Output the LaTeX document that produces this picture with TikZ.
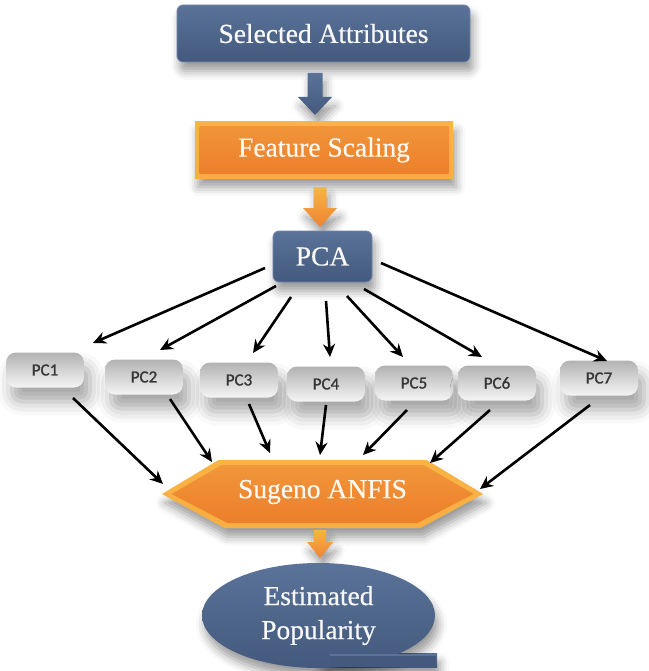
\documentclass[tikz,border=0pt]{standalone}
\usepackage{fontspec}
\setmainfont{Liberation Serif}[FakeBold=0.4]
\newfontfamily\pcfont{Carlito}[FakeBold=1.2]
\usetikzlibrary{shadows.blur,calc,arrows.meta,shapes.geometric}

\definecolor{navyTop}{HTML}{5B7399}
\definecolor{navyBot}{HTML}{43597D}
\definecolor{navyEdge}{HTML}{7489AC}
\definecolor{orTop}{HTML}{F9B443}
\definecolor{orMid}{HTML}{EE8433}
\definecolor{orBot}{HTML}{F8AE42}
\definecolor{orInTop}{HTML}{F1963B}
\definecolor{orInBot}{HTML}{EC7E2A}
\definecolor{pctext}{HTML}{363636}

\tikzset{
  softshadow/.style={blur shadow={shadow xshift=3pt, shadow yshift=-9pt,
      shadow blur radius=9pt, shadow opacity=40}},
  bigfont/.style={font=\fontsize{27.5}{34}\selectfont},
  bluebox/.style={rounded corners=6pt, top color=navyTop, bottom color=navyBot,
      draw=navyEdge, line width=0.8pt, softshadow, text=white!95!gray,
      bigfont, inner sep=0pt},
  orangebox/.style={top color=orTop, middle color=orMid, bottom color=orBot,
      softshadow, text=white!96!orange, bigfont, inner sep=0pt,
      path picture={\shade[top color=orInTop, bottom color=orInBot]
        ([shift={(4.5pt,-4.5pt)}]path picture bounding box.north west) rectangle
        ([shift={(-4.5pt,4.5pt)}]path picture bounding box.south east);}},
  pcbox/.style={rounded corners=10pt, minimum width=78pt, minimum height=35pt,
      top color=black!30, bottom color=black!4, inner sep=0pt,
      blur shadow={shadow xshift=6pt, shadow yshift=-14pt,
        shadow blur radius=14pt, shadow opacity=35},
      text=pctext, font=\pcfont\fontsize{17}{20}\selectfont},
  conn/.style={-{Stealth[length=13pt,width=12pt]}, line width=2.6pt, black},
  bluearrow/.style={top color=navyTop, bottom color=navyBot, softshadow},
  orangearrow/.style={top color=orTop, bottom color=orMid, softshadow},
}

\begin{document}
\begin{tikzpicture}[x=1pt,y=1pt]
\useasboundingbox (0,0) rectangle (648,-671);

% top chain
\node[bluebox, minimum width=293pt, minimum height=57pt] (sa) at (323.5,-33.5) {Selected Attributes};

\coordinate (ba) at (315,-73);
\path[bluearrow] (ba) ++(-7.5,0) -- ++(15,0) -- ++(0,-24) -- ++(9.5,0)
  -- ++(-17,-18) -- ++(-17,18) -- ++(9.5,0) -- cycle;

\node[orangebox, minimum width=258pt, minimum height=56pt] (fs) at (324,-150) {Feature Scaling};

\coordinate (oa) at (320,-187);
\path[orangearrow] (oa) ++(-6.5,0) -- ++(13,0) -- ++(0,-21) -- ++(10.5,0)
  -- ++(-17,-19) -- ++(-17,19) -- ++(10.5,0) -- cycle;

\node[bluebox, minimum width=99pt, minimum height=51pt] (pca) at (322.5,-256.5) {PCA};

% principal components
\node[pcbox] (pc1) at (45,-370) {PC1};
\node[pcbox] (pc2) at (144,-377) {PC2};
\node[pcbox] (pc3) at (239,-380) {PC3};
\node[pcbox] (pc4) at (326,-384) {PC4};
\node[pcbox] (pc5) at (414,-383) {PC5};
\node[pcbox] (pc6) at (497,-383) {PC6};
\node[pcbox] (pc7) at (599,-378) {PC7};

% Sugeno ANFIS block
\path[shift={(322.5,-494)}, top color=orTop, middle color=orMid, bottom color=orBot, softshadow]
  (-160.5,0) -- (-104,34) -- (104,34) -- (160.5,0) -- (98,-34) -- (-98,-34) -- cycle;
\shade[shift={(322.5,-494)}, top color=orInTop, bottom color=orInBot]
  (-151,0) -- (-101,29) -- (101,29) -- (151,0) -- (95,-29) -- (-95,-29) -- cycle;
\node[bigfont, text=white!96!orange] (anfis) at (322.5,-492) {Sugeno ANFIS};

\coordinate (ob) at (320,-530);
\path[orangearrow] (ob) ++(-6,0) -- ++(12,0) -- ++(0,-12) -- ++(7,0)
  -- ++(-13,-16) -- ++(-13,16) -- ++(7,0) -- cycle;

% output
\path[bluearrow] (318.5,-653) rectangle (437,-667);
\node[ellipse, minimum width=233pt, minimum height=105pt, inner sep=0pt,
  top color=navyTop, bottom color=navyBot, softshadow] (ep) at (318.5,-615.5) {};
\fill[navyBot] (330,-653.5) rectangle (436,-666.5);
\fill[navyTop] (330,-653.5) rectangle (436,-656);
\node[bigfont, text=white!95!gray, align=center] (eptext) at (ep.center) {Estimated\\Popularity};

% PCA to components
\draw[conn] ([shift={(-57.5,-11.5)}]pca.center) -- ([shift={(48,27)}]pc1.center);
\draw[conn] ([shift={(-46.5,-29.5)}]pca.center) -- ([shift={(16,27)}]pc2.center);
\draw[conn] ([shift={(-31.5,-40.5)}]pca.center) -- ([shift={(14,27)}]pc3.center);
\draw[conn] ([shift={(3.5,-44.5)}]pca.center) -- ([shift={(4,27)}]pc4.center);
\draw[conn] ([shift={(24.5,-39.5)}]pca.center) -- ([shift={(-11,26)}]pc5.center);
\draw[conn] ([shift={(41.5,-32.5)}]pca.center) -- ([shift={(-15,26)}]pc6.center);
\draw[conn] ([shift={(58.5,-6.5)}]pca.center) -- ([shift={(8,17)}]pc7.center);

% components to ANFIS
\draw[conn] ([shift={(28,-28)}]pc1.center) -- ([shift={(-159.5,8)}]anfis.center);
\draw[conn] ([shift={(26,-22)}]pc2.center) -- ([shift={(-110.5,30)}]anfis.center);
\draw[conn] ([shift={(10,-24)}]pc3.center) -- ([shift={(-52.5,39)}]anfis.center);
\draw[conn] ([shift={(0,-21)}]pc4.center) -- ([shift={(-2.5,37)}]anfis.center);
\draw[conn] ([shift={(-7,-27)}]pc5.center) -- ([shift={(40.5,37)}]anfis.center);
\draw[conn] ([shift={(-7,-27)}]pc6.center) -- ([shift={(107.5,29)}]anfis.center);
\draw[conn] ([shift={(-9,-27)}]pc7.center) -- ([shift={(157.5,3)}]anfis.center);
\end{tikzpicture}
\end{document}
